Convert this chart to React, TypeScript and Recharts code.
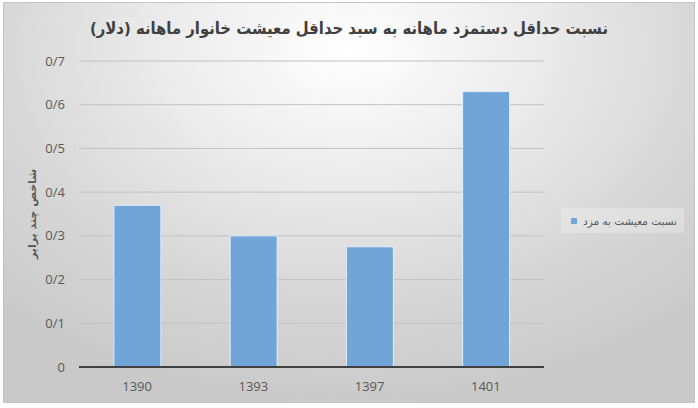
import { Bar, BarChart, CartesianGrid, XAxis, YAxis, Label } from "recharts";

const years = ["1390", "1393", "1397", "1401"];
const ratios = [0.37, 0.3, 0.275, 0.63];
const yTicks = [0, 0.1, 0.2, 0.3, 0.4, 0.5, 0.6, 0.7];
const yTickLabels = ["0", "0/1", "0/2", "0/3", "0/4", "0/5", "0/6", "0/7"];

const title = "نسبت حداقل دستمزد ماهانه به سبد حداقل معیشت خانوار ماهانه (دلار)";
const yTitle = "شاخص چند برابر";
const seriesName = "نسبت معیشت به مزد";

const data = years.map((y, i) => ({ year: y, ratio: ratios[i] }));

const BAR_COLOR = "#71a5d8";
const TEXT = "#595959";
const persianFont = "'DejaVu Sans', sans-serif";

const axisTick = { fill: TEXT, fontSize: 13, fontFamily: "'Open Sans', sans-serif" };

export default function App() {
  return (
    <div style={{ position: "fixed", left: 0, top: 0, width: 698, height: 408, background: "#fff" }}>
      <div
        style={{
          position: "absolute",
          left: 3,
          top: 2,
          width: 692,
          height: 401,
          boxSizing: "border-box",
          border: "1px solid #c4c4c4",
          background: "radial-gradient(ellipse 75% 90% at 50% 12%, #ffffff 0%, #ececec 35%, #d6d6d6 70%, #c9c9c9 100%)",
        }}
      >
        <div
          dir="rtl"
          style={{
            position: "absolute",
            left: 0,
            top: 13,
            width: 690,
            textAlign: "center",
            fontFamily: "'DejaVu Sans Condensed', 'DejaVu Sans', sans-serif",
            fontWeight: "bold",
            fontSize: 16.5,
            color: "#404040",
            lineHeight: "26px",
          }}
        >
          {title}
        </div>
        <BarChart
          width={690}
          height={399}
          data={data}
          margin={{ top: 58, right: 150, left: 0, bottom: 5 }}
          barCategoryGap="30%"
        >
          <CartesianGrid stroke="#c2c2c2" vertical={false} />
          <XAxis
            dataKey="year"
            height={30}
            tick={axisTick}
            tickLine={false}
            tickSize={0}
            tickMargin={15}
            axisLine={{ stroke: "#404040", strokeWidth: 2 }}
          />
          <YAxis
            width={75}
            domain={[0, 0.7]}
            ticks={yTicks}
            interval={0}
            tickFormatter={(v: number) => yTickLabels[yTicks.indexOf(v)] ?? String(v)}
            tick={axisTick}
            tickLine={false}
            tickSize={0}
            tickMargin={14}
            axisLine={false}
          >
            <Label
              content={(props: any) => {
                const vb = props.viewBox || { x: 0, y: 0, height: 0 };
                const cy = vb.y + vb.height / 2;
                return (
                  <text
                    x={28}
                    y={cy}
                    transform={`rotate(-90, 28, ${cy})`}
                    textAnchor="middle"
                    dominantBaseline="central"
                    fill={TEXT}
                    fontSize={11}
                    fontWeight="bold"
                    fontFamily={persianFont}
                    style={{ direction: "rtl" }}
                  >
                    {yTitle}
                  </text>
                );
              }}
            />
          </YAxis>
          <Bar dataKey="ratio" fill={BAR_COLOR} stroke="#e4eef8" strokeWidth={1} isAnimationActive={false} />
        </BarChart>
        <div
          style={{
            position: "absolute",
            left: 557,
            top: 205,
            width: 123,
            height: 25,
            background: "rgba(255,255,255,0.25)",
            display: "flex",
            alignItems: "center",
            gap: 6,
            paddingLeft: 10,
            boxSizing: "border-box",
          }}
        >
          <span style={{ width: 6, height: 6, background: BAR_COLOR, display: "inline-block", flex: "none" }} />
          <span dir="rtl" style={{ fontFamily: persianFont, fontSize: 10.5, color: TEXT, whiteSpace: "nowrap" }}>
            {seriesName}
          </span>
        </div>
      </div>
    </div>
  );
}
